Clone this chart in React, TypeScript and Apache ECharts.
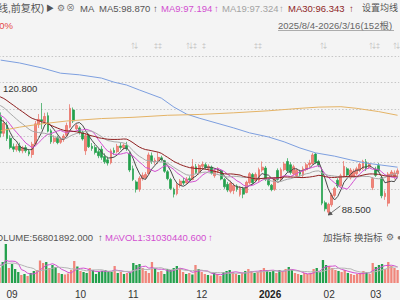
import React, { useEffect, useRef } from "react";
import * as echarts from "echarts";

// Month labels and trading-bar counts (first 30 bars are the lead-in, left of the visible window)
const monthLabels = ["07", "08", "09", "10", "11", "12", "2026", "02", "03"];
const monthBarCounts = [12, 20, 22, 17, 22, 22, 19, 15, 8];
const HIDDEN = 30;

// [open, close, low, high]
const candles: number[][] = [
  // lead-in (Jul / Aug)
  [120.4, 121.0, 119.9, 121.6], [121.1, 121.8, 120.6, 122.3], [121.7, 122.5, 121.2, 123.1], [122.6, 121.9, 121.3, 123.0],
  [121.8, 121.2, 120.7, 122.4], [121.3, 122.0, 120.9, 122.6], [122.1, 121.4, 120.8, 122.5], [121.5, 120.6, 120.1, 121.9],
  [120.5, 121.1, 120.0, 121.7], [121.2, 120.3, 119.8, 121.5], [120.2, 119.6, 119.0, 120.7], [119.7, 119.0, 118.5, 120.1],
  [119.1, 119.8, 118.6, 120.3], [119.7, 120.3, 119.2, 120.8], [120.2, 118.9, 118.4, 120.5], [118.8, 117.6, 117.1, 119.2],
  [117.5, 118.2, 117.0, 118.8], [118.3, 116.9, 116.4, 118.6], [116.8, 115.8, 115.3, 117.2], [115.7, 116.4, 115.2, 116.9],
  [116.5, 115.2, 114.8, 116.8], [115.1, 114.6, 114.0, 115.6], [114.5, 115.3, 114.1, 115.8], [115.4, 114.1, 113.7, 115.7],
  [114.0, 113.5, 112.9, 114.5], [113.4, 114.2, 113.0, 114.7], [114.3, 112.9, 112.5, 114.6], [112.8, 112.3, 111.7, 113.3],
  [112.2, 113.1, 111.9, 113.6], [113.2, 112.0, 111.6, 113.5],
  // visible
  [112.4, 108.5, 107.5, 113.6], [108.5, 110.9, 107.8, 111.8], [110.5, 107.2, 106.6, 111.3], [107.3, 105.0, 104.6, 108.0],
  [105.2, 104.6, 103.9, 106.0], [104.5, 105.3, 104.0, 105.9], [105.4, 104.3, 103.8, 106.2], [104.2, 105.0, 103.6, 105.4],
  [105.0, 104.2, 103.7, 105.6], [104.0, 103.4, 102.9, 104.5], [103.3, 105.8, 102.5, 106.4], [105.9, 110.8, 105.5, 111.5],
  [110.6, 111.9, 109.8, 113.2], [111.8, 111.5, 109.5, 115.9], [111.4, 112.6, 110.8, 113.5], [112.8, 109.0, 108.7, 113.6],
  [109.1, 106.4, 105.9, 109.6], [106.5, 107.3, 106.0, 108.0], [107.4, 106.2, 105.8, 107.9], [106.3, 107.0, 105.9, 107.6],
  [107.0, 107.8, 106.4, 108.3], [108.0, 110.4, 107.6, 111.1], [110.0, 114.6, 109.7, 115.6], [114.2, 111.5, 111.0, 114.8],
  [109.6, 110.4, 109.2, 110.9], [109.8, 108.7, 108.2, 110.2], [108.8, 107.1, 106.7, 109.1], [104.2, 107.9, 103.2, 108.6],
  [108.0, 105.2, 104.9, 108.4], [105.3, 104.8, 104.2, 106.1], [105.0, 103.8, 103.3, 105.6], [104.0, 103.0, 102.4, 104.6],
  [104.6, 102.6, 102.0, 105.4], [102.8, 101.5, 101.0, 103.6], [102.0, 101.2, 100.6, 102.8], [101.3, 104.2, 100.9, 104.7],
  [104.3, 103.8, 103.2, 105.0], [104.0, 105.3, 103.6, 105.9], [105.4, 105.0, 104.5, 106.2], [105.0, 105.6, 104.4, 106.0],
  [105.5, 104.7, 104.2, 106.4], [103.5, 99.5, 99.0, 104.0], [99.8, 97.2, 96.8, 100.6], [96.6, 94.8, 94.0, 97.0],
  [94.8, 97.5, 94.2, 98.0], [97.4, 98.2, 96.9, 98.9], [97.6, 98.4, 97.2, 99.0], [98.6, 103.2, 98.4, 103.8],
  [103.0, 101.6, 101.0, 103.8], [101.5, 101.9, 100.8, 102.5], [101.8, 102.6, 101.0, 103.8], [102.5, 102.1, 101.6, 103.0],
  [101.8, 99.2, 98.8, 102.0], [99.1, 97.4, 97.0, 99.5], [97.2, 95.0, 94.6, 97.6], [94.8, 93.6, 92.8, 95.2],
  [93.7, 95.9, 93.3, 96.3], [95.8, 96.8, 95.2, 97.3], [96.8, 96.3, 95.8, 97.6], [96.4, 97.3, 96.0, 97.8],
  [97.4, 97.1, 96.6, 98.0], [97.2, 100.4, 97.0, 102.2], [100.3, 98.9, 98.5, 101.0], [98.8, 100.6, 98.3, 101.0],
  [100.4, 100.9, 99.8, 101.6], [100.8, 100.1, 99.6, 101.3], [99.9, 100.4, 99.3, 100.9], [100.2, 98.8, 98.4, 100.6],
  [98.1, 99.3, 97.6, 99.8], [99.2, 99.6, 98.7, 100.2], [99.4, 97.3, 97.0, 99.7], [97.2, 95.4, 94.9, 97.6],
  [96.0, 94.6, 94.1, 96.6], [94.3, 96.3, 93.8, 96.9], [94.5, 95.7, 93.6, 96.3], [95.6, 94.8, 94.2, 96.0],
  [93.5, 95.2, 93.0, 95.6], [95.0, 93.6, 92.6, 95.4], [94.0, 96.5, 93.8, 96.9], [96.4, 98.6, 96.0, 99.0],
  [98.4, 96.4, 96.0, 98.8], [96.9, 98.4, 96.5, 98.9], [97.0, 99.6, 96.6, 100.1], [99.5, 100.2, 99.0, 101.6],
  [100.0, 97.2, 96.8, 100.5], [97.2, 95.9, 95.5, 97.6], [95.8, 94.7, 94.3, 96.1], [94.8, 97.4, 94.4, 97.8],
  [99.4, 97.2, 96.9, 99.9], [97.2, 99.6, 96.8, 100.1], [99.6, 101.0, 99.2, 101.5], [101.6, 99.3, 99.0, 102.4],
  [100.8, 98.9, 98.4, 101.4], [98.6, 100.3, 98.2, 100.8], [98.1, 99.4, 97.6, 99.9], [99.0, 98.5, 97.9, 99.6],
  [98.2, 99.8, 97.8, 100.4], [99.6, 100.8, 99.2, 101.3], [100.8, 101.2, 100.1, 102.0], [101.1, 103.2, 100.8, 103.7],
  [103.4, 101.4, 101.0, 103.7], [101.6, 100.7, 100.2, 102.0], [99.5, 91.4, 90.9, 99.9], [91.5, 90.0, 89.4, 92.0],
  [89.2, 91.1, 88.5, 91.5], [91.0, 93.4, 90.5, 93.9], [93.3, 95.0, 92.8, 95.4], [97.0, 95.6, 95.1, 97.5],
  [95.7, 98.1, 95.4, 98.6], [98.0, 100.4, 97.7, 101.7], [99.8, 98.3, 97.9, 100.2], [97.6, 99.5, 97.2, 100.0],
  [98.0, 99.2, 97.6, 99.8], [98.6, 99.8, 98.2, 100.3], [99.4, 100.9, 99.0, 101.3], [99.9, 101.6, 99.5, 102.0],
  [101.5, 99.8, 99.3, 102.2], [100.2, 100.9, 99.8, 101.4], [95.2, 97.4, 94.6, 97.8], [99.7, 98.2, 97.8, 100.3],
  [100.6, 99.3, 98.9, 101.2], [97.6, 93.2, 92.6, 98.0], [93.0, 93.8, 92.2, 94.5], [91.4, 98.5, 90.6, 99.0],
  [98.3, 99.0, 97.8, 99.5], [98.0, 98.8, 97.2, 99.4], [98.6, 99.3, 98.1, 99.9],
];

// volume, millions of shares
const volumesM: number[] = [
  28, 32, 35, 30, 26, 29, 27, 31, 25, 28, 30, 33, 36, 40, 38, 42, 34, 39, 44, 36, 33, 37, 30, 35, 38, 32, 40, 36, 31, 42,
  78, 30, 38, 28, 22, 16, 18, 14, 20, 24, 26, 45, 40, 42, 30, 36, 32, 20, 18, 17, 19, 26, 44, 33,
  24, 22, 20, 30, 26, 18, 22, 24, 26, 24, 22, 34, 20, 22, 18, 20, 21,
  40, 36, 38, 30, 24, 20, 42, 30, 22, 24, 18, 28, 26, 30, 34, 30, 22, 18, 20, 17, 36, 28,
  22, 18, 16, 15, 20, 18, 14, 22, 24, 26, 22, 18, 16, 20, 24, 28, 24, 20, 22, 26, 30, 26,
  22, 24, 20, 26, 24, 28, 32, 26, 20, 18, 16, 20, 18, 20, 28, 30, 22, 46, 36,
  34, 30, 26, 24, 22, 26, 20, 18, 16, 18, 20, 24, 22, 18, 40,
  32, 36, 38, 28, 42, 34, 30, 26,
];

// long moving averages: [visible bar index, price]
const longMaBlue: number[][] = [
  [0, 126.4], [6, 125.7], [13, 124.5], [19, 123.2], [25, 122.8], [32, 122.0], [36, 121.0], [40, 120.3],
  [44, 119.1], [51, 117.1], [55, 114.9], [59, 113.2], [63, 112.2], [74, 109.8], [79, 108.6], [85, 107.6],
  [90, 106.4], [95, 104.9], [100, 103.7], [106, 102.9], [111, 102.0], [116, 101.2], [121, 100.7], [126, 100.2],
];
const longMaOrange: number[][] = [
  [0, 109.1], [6, 110.0], [13, 110.8], [21, 111.5], [32, 112.1], [42, 112.4], [53, 112.9], [63, 113.1],
  [74, 113.5], [85, 114.0], [95, 114.6], [101, 114.9], [108, 115.0], [113, 114.6], [120, 113.8], [126, 112.9],
];

const maPeriods = [5, 9, 19, 30];
const maColors = ["#4a4a4a", "#d24fd0", "#a8a8a8", "#8e1f1f"];

function movingAverage(values: number[], n: number) {
  return values.map((_, i) => {
    if (i < n - 1) return null;
    let s = 0;
    for (let k = i - n + 1; k <= i; k++) s += values[k];
    return +(s / n).toFixed(3);
  });
}

const FONT = '"Liberation Sans", "Noto Sans CJK SC", "DejaVu Sans", sans-serif';
const STEP = 3.15;
const SHIFT = 96; // chart canvas starts this far left of the visible window

function txt(text: string, x: number, y: number, fill: string, opts: any = {}) {
  return {
    type: "text",
    x,
    y,
    silent: true,
    style: {
      text,
      fill,
      fontSize: opts.fontSize ?? 9.5,
      fontFamily: opts.fontFamily ?? FONT,
      fontWeight: opts.fontWeight ?? "normal",
      align: opts.align ?? "left",
      textAlign: opts.align ?? "left",
      verticalAlign: "middle",
      textVerticalAlign: "middle",
    },
  };
}

export default function App() {
  const ref = useRef<HTMLDivElement>(null);
  const totalBars = monthBarCounts.reduce((a, b) => a + b, 0);
  const gridLeft = 0.67 - (HIDDEN + 0.5) * STEP + SHIFT;
  const gridWidth = totalBars * STEP;
  const chartWidth = Math.ceil(gridLeft + gridWidth + 1);

  useEffect(() => {
    if (!ref.current) return;
    const chart = echarts.init(ref.current, null, { renderer: "svg" });

    const categories: string[] = [];
    monthLabels.forEach((m, mi) => {
      for (let k = 0; k < monthBarCounts[mi]; k++) categories.push(`${m}|${k}`);
    });

    const closes = candles.map((c) => c[1]);

    const upColor = "#f0867b";
    const upBorder = "#e8685d";
    const downColor = "#23a04c";

    const volData = volumesM.map((v, i) => ({
      value: v,
      itemStyle: { color: candles[i][1] >= candles[i][0] ? upColor : downColor },
    }));

    const option: any = {
      animation: false,
      backgroundColor: "#f4f4f4",
      grid: [
        { left: gridLeft, width: gridWidth, top: 29.33, height: 186.67 },
        { left: gridLeft, width: gridWidth, top: 238, height: 45 },
      ],
      xAxis: [
        { type: "category", gridIndex: 0, data: categories, show: false },
        {
          type: "category",
          gridIndex: 1,
          data: categories,
          axisLine: { show: false },
          axisTick: { show: false },
          splitLine: { show: false },
          axisLabel: {
            interval: (_i: number, v: string) => v.endsWith("|0"),
            formatter: (v: string) => {
              const m = v.split("|")[0];
              return m === "2026" ? "{b|2026}" : m;
            },
            color: "#333",
            fontSize: 10,
            fontFamily: FONT,
            margin: 6,
            rich: { b: { fontWeight: "bold", fontSize: 10, color: "#222", fontFamily: FONT } },
          },
        },
      ],
      yAxis: [
        { type: "value", gridIndex: 0, min: 88.255, max: 133.93, show: false, splitLine: { show: false } },
        {
          type: "value",
          gridIndex: 0,
          min: 0,
          max: 7,
          interval: 1,
          axisLabel: { show: false },
          axisLine: { show: false },
          axisTick: { show: false },
          splitLine: {
            show: true,
            showMinLine: false,
            showMaxLine: false,
            lineStyle: { color: "#c6c6c6", type: [1.5, 2], width: 1 },
          },
        },
        { type: "value", gridIndex: 1, min: 0, max: 90, show: false, splitLine: { show: false } },
      ],
      series: [
        {
          type: "candlestick",
          xAxisIndex: 0,
          yAxisIndex: 0,
          barWidth: 2.3,
          silent: true,
          data: candles.map((c) => [c[0], c[1], c[2], c[3]]),
          itemStyle: {
            color: upColor,
            color0: downColor,
            borderColor: upBorder,
            borderColor0: downColor,
            borderWidth: 0.7,
          },
          markPoint: {
            silent: true,
            symbol: "path://M0,9L12,0M0,9L4,8.4L1.8,5.8Z",
            symbolSize: [12, 9],
            symbolOffset: [6, -4.5],
            itemStyle: { color: "#555", borderColor: "#555", borderWidth: 0.8 },
            label: {
              show: true,
              position: "right",
              distance: 1,
              offset: [0, -1],
              formatter: "88.500",
              color: "#333",
              fontSize: 9.5,
              fontFamily: FONT,
            },
            data: [{ type: "min", valueDim: "lowest" }],
          },
        },
        ...maPeriods.map((p, k) => ({
          type: "line",
          xAxisIndex: 0,
          yAxisIndex: 0,
          data: movingAverage(closes, p),
          showSymbol: false,
          silent: true,
          lineStyle: { color: maColors[k], width: 1 },
        })),
        {
          type: "line",
          xAxisIndex: 0,
          yAxisIndex: 0,
          data: longMaBlue.map(([j, v]) => [j + HIDDEN, v]),
          showSymbol: false,
          silent: true,
          lineStyle: { color: "#7d9fdf", width: 1 },
        },
        {
          type: "line",
          xAxisIndex: 0,
          yAxisIndex: 0,
          data: longMaOrange.map(([j, v]) => [j + HIDDEN, v]),
          showSymbol: false,
          silent: true,
          lineStyle: { color: "#e4b366", width: 1 },
        },
        {
          type: "bar",
          xAxisIndex: 1,
          yAxisIndex: 2,
          barWidth: 2.3,
          silent: true,
          data: volData,
        },
        {
          type: "line",
          xAxisIndex: 1,
          yAxisIndex: 2,
          data: movingAverage(volumesM, 5),
          showSymbol: false,
          silent: true,
          lineStyle: { color: "#d24fd0", width: 1 },
        },
        {
          type: "line",
          xAxisIndex: 1,
          yAxisIndex: 2,
          data: movingAverage(volumesM, 10),
          showSymbol: false,
          silent: true,
          lineStyle: { color: "#b4b4b4", width: 1 },
        },
      ],
      graphic: [
        {
          type: "group",
          x: SHIFT,
          y: 0,
          children: [
            txt("(日线,前复权)", 44, 8, "#555", { align: "right", fontSize: 10 }),
            txt("▶", 46, 8, "#555", { fontSize: 8 }),
            txt("⚙", 57, 8, "#777", { fontSize: 9 }),
            txt("⊗", 66, 8, "#777", { fontSize: 9 }),
            txt("MA", 80, 8, "#555"),
            txt("MA5:98.870", 99, 8, "#555"),
            txt("↑", 153, 8, "#555"),
            txt("MA9:97.194", 161, 8, "#d24fd0"),
            txt("↑", 214, 8, "#d24fd0"),
            txt("MA19:97.324", 222, 8, "#a3a3a3"),
            txt("↑", 279, 8, "#a3a3a3"),
            txt("MA30:96.343", 288, 8, "#8e1f1f"),
            txt("↑", 349, 8, "#8e1f1f"),
            txt("设置均线", 362, 8, "#555", { fontSize: 9 }),
            txt("60%", 13, 25, "#e5483f", { align: "right" }),
            txt("2025/8/4-2026/3/16(152根)", 278, 25, "#666"),
            {
              type: "line",
              silent: true,
              shape: { x1: 278, y1: 30.5, x2: 394, y2: 30.5 },
              style: { stroke: "#999", lineWidth: 0.8 },
            },
            txt("120.800", 3, 88.5, "#333"),
            txt("⇅", 131, 45, "#bdbdbd", { fontSize: 7 }),
            txt("‡‡", 154, 45, "#bdbdbd", { fontSize: 7 }),
            txt("⇅‡", 186, 45, "#bdbdbd", { fontSize: 7 }),
            txt("‡", 202, 45, "#bdbdbd", { fontSize: 7 }),
            txt("‡‡", 254, 45, "#bdbdbd", { fontSize: 7 }),
            txt("⇅", 320, 45, "#bdbdbd", { fontSize: 7 }),
            txt("⇅‡", 369, 45, "#bdbdbd", { fontSize: 7 }),
            txt("⇅", 393, 45, "#bdbdbd", { fontSize: 7 }),
            txt("VOLUME:56801892.000", 93, 237, "#555", { align: "right" }),
            txt("↑", 98, 237, "#555"),
            txt("MAVOL1:31030440.600", 105, 237, "#d24fd0"),
            txt("↑", 208, 237, "#d24fd0"),
            txt("加指标", 323, 237, "#555"),
            txt("换指标", 354, 237, "#555"),
            txt("⚙", 386, 237, "#666", { fontSize: 9 }),
            txt("●", 397, 237, "#777", { fontSize: 8 }),
          ],
        },
      ],
    };

    chart.setOption(option);
    return () => chart.dispose();
  }, []);

  return (
    <div
      style={{
        position: "fixed",
        left: 0,
        top: 0,
        width: 400,
        height: 300,
        overflow: "hidden",
        background: "#f4f4f4",
      }}
    >
      <div
        ref={ref}
        style={{ position: "absolute", left: -SHIFT, top: 0, width: chartWidth, height: 300 }}
      />
    </div>
  );
}
